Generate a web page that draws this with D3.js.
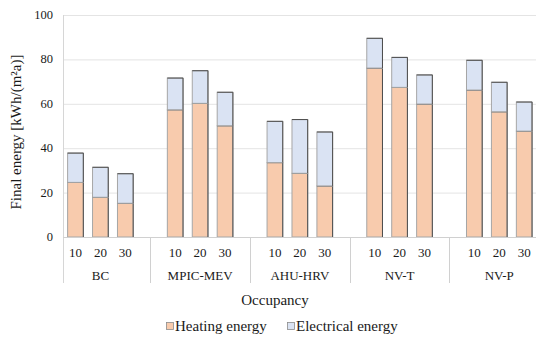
<!DOCTYPE html>
<html>
<head>
<meta charset="utf-8">
<script src="https://cdn.jsdelivr.net/npm/d3@7"></script>
<style>
  html, body { margin: 0; padding: 0; background: #fff; }
  svg, svg text { font-family: "Liberation Serif", "Times New Roman", "DejaVu Serif", serif; }
  svg { display: block; }
</style>
</head>
<body>
<svg id="chart" width="536" height="338"></svg>
<script>
// Ventilation strategies and occupancy levels
const systems = ["BC", "MPIC-MEV", "AHU-HRV", "NV-T", "NV-P"];
const occupancy = ["10", "20", "30"];
// Final energy per bar, kWh/(m²a), ordered system by system, occupancy 10/20/30
const heating    = [24.6, 17.9, 15.2, 57.3, 60.2, 50.1, 33.5, 28.7, 23.0, 76.1, 67.4, 59.9, 66.2, 56.4, 47.7];
const electrical = [13.2, 13.5, 13.3, 14.3, 14.7, 15.1, 18.6, 24.2, 24.3, 13.4, 13.5, 13.1, 13.4, 13.3, 13.1];
const yTicks = [0, 20, 40, 60, 80, 100];
const seriesNames = ["Heating energy", "Electrical energy"];
const seriesColors = ["#f8cbad", "#dae3f3"];

const fontFamily = "'Liberation Serif', 'Times New Roman', 'DejaVu Serif', serif";
const svg = d3.select("#chart").attr("font-family", fontFamily);
const plotLeft = 63, plotTop = 15, plotBottom = 237;
// each system occupies four slots: three bars plus a spacer slot
const slotCount = systems.length * 4;
const slotRight = plotLeft + slotCount * 24.93;

const slots = d3.range(slotCount);
const x = d3.scaleBand().domain(slots).range([plotLeft, slotRight]).paddingInner(0.37).paddingOuter(0.185);
const xSlot = d3.scaleBand().domain(slots).range([plotLeft, slotRight]);
const y = d3.scaleLinear().domain([0, 100]).range([plotBottom, plotTop]);

// gridlines
svg.append("g").selectAll("line").data(yTicks.filter(d => d > 0)).join("line")
  .attr("x1", plotLeft).attr("x2", slotRight)
  .attr("y1", d => y(d) + 0.5).attr("y2", d => y(d) + 0.5)
  .attr("stroke", "#e4e4e4").attr("stroke-width", 1);

// left axis line
svg.append("line").attr("x1", plotLeft + 0.5).attr("x2", plotLeft + 0.5)
  .attr("y1", plotTop).attr("y2", 283).attr("stroke", "#d6d6d6");

// y tick labels
svg.append("g").selectAll("text").data(yTicks).join("text")
  .attr("x", 53).attr("y", d => y(d) + 4)
  .attr("text-anchor", "end").attr("font-size", 12.5).attr("fill", "#1a1a1a")
  .attr("font-family", fontFamily)
  .text(d => d);

// bar data
const bars = [];
systems.forEach((s, i) => {
  occupancy.forEach((o, j) => {
    const k = i * 3 + j;
    bars.push({ slot: i * 4 + j, system: s, occ: o, h: heating[k], e: electrical[k] });
  });
});

const barG = svg.append("g");
bars.forEach(b => {
  const bx = x(b.slot), bw = x.bandwidth();
  const segs = [
    { y0: 0, y1: b.h, c: seriesColors[0] },
    { y0: b.h, y1: b.h + b.e, c: seriesColors[1] }
  ];
  segs.forEach(sg => {
    const yt = y(sg.y1), yb = y(sg.y0);
    barG.append("rect")
      .attr("x", bx).attr("y", yt).attr("width", bw).attr("height", yb - yt)
      .attr("fill", sg.c).attr("stroke", "#a6a6a6").attr("stroke-width", 1);
    // darker top and right edges
    barG.append("path")
      .attr("d", `M${bx},${yt}H${bx + bw}V${yb}`)
      .attr("fill", "none").attr("stroke", "#4d4d4d").attr("stroke-width", 1);
  });
});

// baseline
svg.append("line").attr("x1", plotLeft).attr("x2", slotRight)
  .attr("y1", plotBottom + 0.5).attr("y2", plotBottom + 0.5).attr("stroke", "#d0d0d0");

// occupancy labels
svg.append("g").selectAll("text").data(bars).join("text")
  .attr("x", d => x(d.slot) + x.bandwidth() / 2).attr("y", 257)
  .attr("text-anchor", "middle").attr("font-size", 13).attr("fill", "#1a1a1a")
  .attr("font-family", fontFamily)
  .text(d => d.occ);

// group dividers at spacer slots
svg.append("g").selectAll("line").data(systems.slice(0, -1)).join("line")
  .attr("x1", (d, i) => Math.round(xSlot(i * 4 + 3) + xSlot.bandwidth() / 2) + 0.5)
  .attr("x2", (d, i) => Math.round(xSlot(i * 4 + 3) + xSlot.bandwidth() / 2) + 0.5)
  .attr("y1", plotBottom).attr("y2", 283).attr("stroke", "#d0d0d0");

// system labels
svg.append("g").selectAll("text").data(systems).join("text")
  .attr("x", (d, i) => xSlot(i * 4 + 1) + xSlot.bandwidth() / 2).attr("y", 280)
  .attr("text-anchor", "middle").attr("font-size", 13).attr("fill", "#1a1a1a")
  .attr("font-family", fontFamily)
  .text(d => d);

// axis titles
svg.append("text").attr("x", 275).attr("y", 305)
  .attr("text-anchor", "middle").attr("font-size", 15).attr("fill", "#1a1a1a")
  .attr("font-family", fontFamily)
  .text("Occupancy");
svg.append("text")
  .attr("transform", "translate(21,132) rotate(-90)")
  .attr("text-anchor", "middle").attr("font-size", 15).attr("fill", "#1a1a1a")
  .attr("font-family", fontFamily)
  .text("Final energy [kWh/(m²a)]");

// legend
const legend = svg.append("g");
const legendX = [166, 287];
seriesNames.forEach((n, i) => {
  legend.append("rect").attr("x", legendX[i] + 0.5).attr("y", 322.5).attr("width", 7).attr("height", 7)
    .attr("fill", seriesColors[i]).attr("stroke", "#8c8c8c").attr("stroke-width", 0.8);
  legend.append("text").attr("x", legendX[i] + 9).attr("y", 331)
    .attr("font-size", 15).attr("fill", "#1a1a1a").attr("font-family", fontFamily).text(n);
});
</script>
</body>
</html>
